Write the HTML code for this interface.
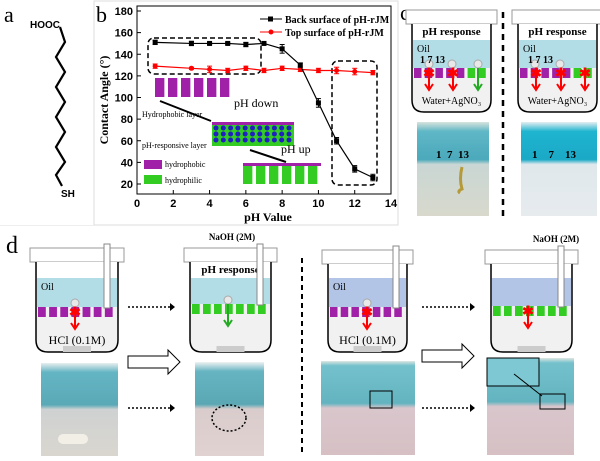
<!DOCTYPE html>
<html><head><meta charset="utf-8"><style>
body{margin:0;background:#fff}
svg{display:block;font-family:"Liberation Serif",serif}
</style></head><body>
<svg width="600" height="461" viewBox="0 0 600 461">
<defs>
<linearGradient id="ph1" x1="0" y1="0" x2="0" y2="1"><stop offset="0" stop-color="#d7e3dc"/><stop offset="0.1" stop-color="#5fb7c6"/><stop offset="0.4" stop-color="#4aa9bb"/><stop offset="0.45" stop-color="#c9d6d4"/><stop offset="1" stop-color="#d8d9cc"/></linearGradient>
<linearGradient id="ph2" x1="0" y1="0" x2="0" y2="1"><stop offset="0" stop-color="#e4eef0"/><stop offset="0.1" stop-color="#1fb4d0"/><stop offset="0.4" stop-color="#1aa9c6"/><stop offset="0.45" stop-color="#dfe8ec"/><stop offset="1" stop-color="#e7ebee"/></linearGradient>
<linearGradient id="ph3" x1="0" y1="0" x2="0" y2="1"><stop offset="0" stop-color="#e6eeee"/><stop offset="0.1" stop-color="#64b5c4"/><stop offset="0.45" stop-color="#5aa9b7"/><stop offset="0.5" stop-color="#cfd2d2"/><stop offset="1" stop-color="#d9d6cf"/></linearGradient>
<linearGradient id="ph4" x1="0" y1="0" x2="0" y2="1"><stop offset="0" stop-color="#eef2f2"/><stop offset="0.1" stop-color="#66b4c2"/><stop offset="0.45" stop-color="#5ba8b4"/><stop offset="0.5" stop-color="#d9cccc"/><stop offset="1" stop-color="#e0d2d0"/></linearGradient>
<linearGradient id="ph5" x1="0" y1="0" x2="0" y2="1"><stop offset="0" stop-color="#dfe6e2"/><stop offset="0.05" stop-color="#74c1cc"/><stop offset="0.45" stop-color="#63b4c0"/><stop offset="0.5" stop-color="#d9c6cc"/><stop offset="1" stop-color="#d6c0c4"/></linearGradient>
</defs>

<!-- panel a -->
<text x="4" y="22" font-size="22">a</text>
<text x="30" y="28" font-family="Liberation Sans,sans-serif" font-size="10" font-weight="bold">HOOC</text>
<polyline fill="none" stroke="#000" stroke-width="2.2" points="60,27 65,42 56,57 65,72 56,87 65,102 56,117 65,132 56,147 65,162 56,175 62,186"/>
<text x="61" y="197" font-family="Liberation Sans,sans-serif" font-size="10" font-weight="bold">SH</text>

<!-- panel b -->
<rect x="94" y="1" width="304" height="224" fill="none" stroke="#ddd"/>
<text x="96" y="22" font-size="22">b</text>
<g id="chart"></g>

<!-- panel c -->
<text x="400" y="20" font-size="22">c</text>
<line x1="503" y1="12" x2="503" y2="218" stroke="#000" stroke-width="2.5" stroke-dasharray="6,5"/>
<g id="c1"></g>
<g id="c2"></g>
<rect x="417" y="122" width="72" height="94" fill="url(#ph1)"/>
<path d="M462 167 q-3 12 0 22 q-5 2 -2 4" stroke="#b59a3a" stroke-width="3" fill="none"/>
<text x="436" y="158" font-size="11" font-weight="bold">1 &#160;7 &#160;13</text>
<rect x="521" y="122" width="76" height="94" fill="url(#ph2)"/>
<text x="532" y="158" font-size="11" font-weight="bold">1 &#160;&#160;&#160;7 &#160;&#160;&#160;13</text>

<!-- panel d -->
<rect x="0" y="225" width="300" height="1" fill="#eee"/>
<text x="6" y="253" font-size="24">d</text>
<line x1="302" y1="258" x2="302" y2="456" stroke="#000" stroke-width="2" stroke-dasharray="5,4"/>
<g id="d1"></g><g id="d2"></g><g id="d3"></g><g id="d4"></g>
<rect x="41" y="363" width="77" height="93" fill="url(#ph3)"/>
<rect x="58" y="434" width="30" height="10" rx="5" fill="#f2f0e6"/>
<rect x="195" y="362" width="69" height="94" fill="url(#ph4)"/>
<ellipse cx="229" cy="418" rx="17" ry="13" fill="none" stroke="#000" stroke-dasharray="2,2" stroke-width="1.5"/>
<rect x="321" y="361" width="94" height="94" fill="url(#ph5)"/>
<rect x="370" y="391" width="22" height="17" fill="none" stroke="#000"/>
<rect x="487" y="358" width="87" height="97" fill="url(#ph5)"/>
<rect x="487" y="358" width="52" height="28" fill="#7dc8d2" stroke="#000"/>
<rect x="540" y="394" width="25" height="15" fill="none" stroke="#000"/>
<line x1="542" y1="396" x2="514" y2="374" stroke="#000"/>
<g stroke="#000" stroke-width="1.5" stroke-dasharray="2,2" fill="none">
<line x1="128" y1="307" x2="170" y2="307"/><line x1="128" y1="408" x2="170" y2="408"/>
<line x1="422" y1="307" x2="470" y2="307"/><line x1="422" y1="408" x2="470" y2="408"/>
</g>
<g fill="#000"><path d="M170 303l5 4-5 4z"/><path d="M170 404l5 4-5 4z"/><path d="M470 303l5 4-5 4z"/><path d="M470 404l5 4-5 4z"/></g>
<path d="M128 356h40v-6l12 12-12 12v-6h-40z" fill="#fff" stroke="#000"/>
<path d="M422 350h40v-6l12 12-12 12v-6h-40z" fill="#fff" stroke="#000"/>
</svg>
<script>
const NS="http://www.w3.org/2000/svg";
function mk(p,t,a,txt){const e=document.createElementNS(NS,t);for(const k in a)e.setAttribute(k,a[k]);if(txt!=null)e.textContent=txt;p.appendChild(e);return e;}

// chart data
const phBack=[1,3,4,5,6,7,8,9,10,11,12,13];
const caBack=[151,150,150,150,149,150,145,130,95,60,34,26];
const errBack=[2,2,1,1,2,1,4,2,4,3,3,3];
const phTop=[1,3,4,5,6,7,8,9,10,11,12,13];
const caTop=[129,127,126,125,127,125,127,126,125,125,124,123];
const errTop=[2,1,3,2,2,2,2,2,2,3,3,2];
const yTicks=[20,40,60,80,100,120,140,160,180];
const xTicks=[0,2,4,6,8,10,12,14];

const X0=137,X1=391,Y0=184,Y1=11;
const xs=v=>X0+(v/14)*(X1-X0);
const ys=v=>Y0-(v-20)/160*(Y0-Y1);
const g=document.getElementById('chart');
mk(g,'rect',{x:X0,y:6,width:X1-X0,height:194-6,fill:'none',stroke:'#000'});
yTicks.forEach(t=>{
  mk(g,'line',{x1:X0,x2:X0+4,y1:ys(t),y2:ys(t),stroke:'#000'});
  const tx=mk(g,'text',{x:X0-4,y:ys(t)+4,'text-anchor':'end','font-size':11,'font-weight':'bold','font-family':'Liberation Sans,sans-serif'},t);
  
  
});
xTicks.forEach(t=>{
  mk(g,'line',{x1:xs(t),x2:xs(t),y1:194,y2:190,stroke:'#000'});
  const tx=mk(g,'text',{x:xs(t),y:207,'text-anchor':'middle','font-size':11,'font-weight':'bold','font-family':'Liberation Sans,sans-serif'},t);
  
  
});
const xt=mk(g,'text',{x:268,y:221,'text-anchor':'middle','font-size':12,'font-weight':'bold'},'pH Value');


const yt=mk(g,'text',{x:108,y:100,'text-anchor':'middle','font-size':12,'font-weight':'bold',transform:'rotate(-90 108 100)'},'Contact Angle (°)');



// dashed boxes
mk(g,'rect',{x:148,y:38,width:113,height:36,rx:6,fill:'none',stroke:'#000','stroke-width':1.5,'stroke-dasharray':'5,3'});
mk(g,'rect',{x:332,y:61,width:45,height:124,rx:6,fill:'none',stroke:'#000','stroke-width':1.5,'stroke-dasharray':'5,3'});

// illustrations inside chart
function teeth(x,y,n,w,h,top,bot){for(let i=0;i<n;i++){mk(g,'rect',{x:x+i*w,y:y,width:w*0.72,height:h,fill:bot});} if(top)mk(g,'rect',{x:x,y:y-3,width:n*w,height:3,fill:top});}
teeth(155,78,6,13,19,null,'#a020a8');
teeth(243,166,6,13,18,'#a020a8','#33cc22');
mk(g,'rect',{x:212,y:124,width:82,height:22,fill:'#33cc22'});
mk(g,'rect',{x:212,y:122,width:82,height:3,fill:'#a020a8'});
for(let r=0;r<3;r++)for(let c=0;c<11;c++)mk(g,'circle',{cx:216+c*7.3,cy:128+r*6,r:2.5,fill:'#2020c0'});
mk(g,'line',{x1:211,y1:121,x2:160,y2:101,stroke:'#000','stroke-width':2});
mk(g,'line',{x1:250,y1:150,x2:286,y2:162,stroke:'#000','stroke-width':2});
[['pH down',234,107,12],['pH up',281,153,12],['Hydrophobic layer',142,117,8],['pH-responsive layer',142,148,8],['hydrophobic',165,167,8],['hydrophilic',165,183,8]].forEach(a=>mk(g,'text',{x:a[1],y:a[2],'font-size':a[3]},a[0]));
mk(g,'rect',{x:144,y:160,width:18,height:9,fill:'#a020a8'});
mk(g,'rect',{x:144,y:175,width:18,height:9,fill:'#33cc22'});

function series(px,py,pe,color,name){
  const pts=px.map((p,i)=>xs(p)+','+ys(py[i])).join(' ');
  const pl=mk(g,'polyline',{points:pts,fill:'none',stroke:color,'stroke-width':1.2});
  
  
  px.forEach((p,i)=>{
    const x=xs(p),y=ys(py[i]),e=pe[i]*(Y0-Y1)/160;
    mk(g,'line',{x1:x,x2:x,y1:y-e,y2:y+e,stroke:color});
    mk(g,'line',{x1:x-2.5,x2:x+2.5,y1:y-e,y2:y-e,stroke:color});
    mk(g,'line',{x1:x-2.5,x2:x+2.5,y1:y+e,y2:y+e,stroke:color});
    let m;
    if(color==='#000')m=mk(g,'rect',{x:x-2.5,y:y-2.5,width:5,height:5,fill:color});
    else m=mk(g,'circle',{cx:x,cy:y,r:2.5,fill:color});
    
    
  });
}
series(phTop,caTop,errTop,'#f00','top-surface');
series(phBack,caBack,errBack,'#000','back-surface');
// legend
mk(g,'line',{x1:260,x2:282,y1:19,y2:19,stroke:'#000'});mk(g,'rect',{x:268,y:16.5,width:5,height:5});
mk(g,'text',{x:285,y:23,'font-size':10,'font-weight':'bold'},'Back surface of pH-rJM');
mk(g,'line',{x1:260,x2:282,y1:32,y2:32,stroke:'#f00'});mk(g,'circle',{cx:271,cy:32,r:2.5,fill:'#f00'});
mk(g,'text',{x:285,y:36,'font-size':10,'font-weight':'bold'},'Top surface of pH-rJM');

// beakers
function beaker(id,x,w,yTop,yBot,opt){
  const b=document.getElementById(id);
  mk(b,'rect',{x:x-6,y:yTop,width:w+12,height:14,fill:'#fff',stroke:'#999'});
  mk(b,'path',{d:`M${x} ${yTop+14}V${yBot-12}q0 12 12 12h${w-24}q12 0 12-12V${yTop+14}`,fill:'#f1f1f1',stroke:'#000','stroke-width':1.5});
  mk(b,'rect',{x:x+1,y:yTop+14,width:w-2,height:opt.oilTop-yTop-14,fill:'#fff'});
  mk(b,'rect',{x:x+1,y:opt.oilTop,width:w-2,height:opt.memY-opt.oilTop,fill:opt.oil});
  for(let i=0;i<opt.cols.length;i++){mk(b,'rect',{x:x+2+i*(w-4)/opt.cols.length,y:opt.memY,width:(w-4)/opt.cols.length*0.7,height:10,fill:opt.cols[i]});}
  (opt.balls||[]).forEach(bx=>{mk(b,'circle',{cx:bx,cy:opt.memY-4,r:4,fill:'#e8e8e8',stroke:'#aaa'});});
  (opt.arrows||[]).forEach(a=>{mk(b,'line',{x1:a[0],x2:a[0],y1:opt.memY,y2:opt.memY+20,stroke:a[1],'stroke-width':2});mk(b,'path',{d:`M${a[0]-4} ${opt.memY+16}l4 6 4-6`,fill:'none',stroke:a[1],'stroke-width':2});if(a[2])mk(b,'text',{x:a[0],y:opt.memY+10,'text-anchor':'middle','font-size':14,fill:'#f00','font-weight':'bold'},'✱');});
  if(opt.label)mk(b,'text',{x:x+w/2,y:yBot-8,'text-anchor':'middle','font-size':opt.lsize||10},opt.label);
  if(opt.title)mk(b,'text',{x:x+w/2,y:yTop+25,'text-anchor':'middle','font-size':11,'font-weight':'bold'},opt.title);
  if(opt.oilText)mk(b,'text',{x:x+5,y:opt.oilTop+12,'font-size':10},'Oil');
  if(opt.tube){mk(b,'rect',{x:x+w-14,y:yTop-4,width:6,height:opt.memY+5-yTop,fill:'#fff',stroke:'#888'});}
  if(opt.stir)mk(b,'rect',{x:x+w/2-14,y:yBot-6,width:28,height:6,fill:'#ccc'});
  return b;
}
const P='#a020a8',G='#33cc22';
beaker('c1',412,79,10,112,{oilTop:40,memY:68,oil:'#b3dde6',cols:[P,P,P,P,P,G,G],balls:[429,452,478],arrows:[[429,'#f00',1],[453,'#f00',1],[478,'#2a2']],label:'Water+AgNO₃',title:'pH response',oilText:1});
mk(document.getElementById('c1'),'text',{x:420,y:63,'font-size':10,'font-weight':'bold'},'1      7      13');
beaker('c2',518,79,10,112,{oilTop:40,memY:68,oil:'#b3dde6',cols:[P,P,P,P,P,G,G],balls:[535,560],arrows:[[536,'#f00',1],[561,'#f00',1],[585,'#f00',1]],label:'Water+AgNO₃',title:'pH response',oilText:1});
mk(document.getElementById('c2'),'text',{x:528,y:63,'font-size':10,'font-weight':'bold'},'1      7      13');
beaker('d1',36,82,248,352,{oilTop:278,memY:307,oil:'#b3dde6',cols:[P,P,P,P,P,P,P],balls:[75],arrows:[[75,'#f00',1]],label:'HCl (0.1M)',lsize:12,oilText:1,tube:1,stir:1});
beaker('d2',190,81,248,352,{oilTop:278,memY:304,oil:'#b3dde6',cols:[G,G,G,G,G,G,G],balls:[228],arrows:[[228,'#2a2']],title:'pH response',tube:1,stir:1});
beaker('d3',328,79,250,352,{oilTop:278,memY:307,oil:'#b2c5e6',cols:[P,P,P,P,P,P,P],balls:[367],arrows:[[367,'#f00',1]],label:'HCl (0.1M)',lsize:12,oilText:1,tube:1,stir:1});
beaker('d4',491,81,250,352,{oilTop:278,memY:306,oil:'#b2c5e6',cols:[G,G,G,G,G,G,G],arrows:[[528,'#f00',1]],tube:1,stir:1});
const d2=document.getElementById('d2');
mk(d2,'text',{x:232,y:240,'text-anchor':'middle','font-size':9,'font-weight':'bold'},'NaOH (2M)');
const d4=document.getElementById('d4');
mk(d4,'text',{x:556,y:242,'text-anchor':'middle','font-size':9,'font-weight':'bold'},'NaOH (2M)');
['d1','d2','d3','d4'].forEach(id=>{const e=document.getElementById(id);});
</script>
</body></html>
